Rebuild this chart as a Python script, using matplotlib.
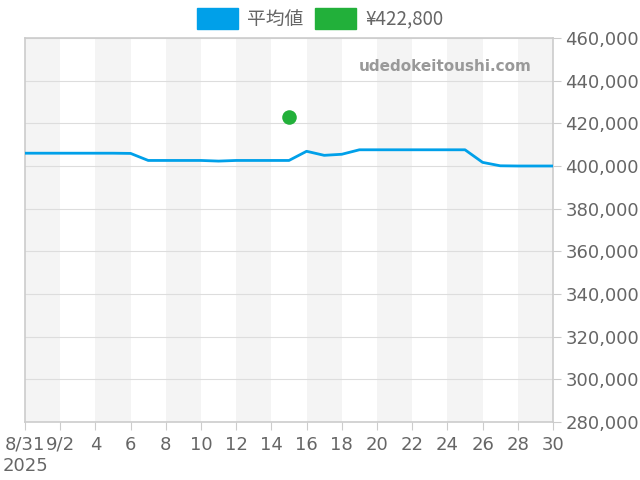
import matplotlib
matplotlib.use("Agg")
import matplotlib.pyplot as plt
from matplotlib.patches import Patch
import numpy as np

plt.rcParams['font.family'] = ['DejaVu Sans', 'Noto Sans CJK JP']

# days since 8/31 and average price
days = list(range(31))
avg_price = [406000, 406000, 406000, 406000, 406000, 406000, 405900, 402600, 402600, 402600,
             402600, 402300, 402600, 402600, 402600, 402600, 406900, 405000, 405500, 407600,
             407600, 407600, 407600, 407600, 407600, 407600, 401700, 400100, 400000, 400000,
             400000]
point_day = 15
point_price = 422800
tick_days = list(range(0, 31, 2))
tick_labels = ["8/31", "9/2"] + [str(d) for d in range(4, 31, 2)]

grey_txt = "#666666"
fig = plt.figure(figsize=(6.4, 4.8), dpi=100)
ax = fig.add_axes([25 / 640, 1 - 422 / 480, 528 / 640, 384 / 480])

for start in range(0, 30, 4):
    ax.axvspan(start, start + 2, color="#f4f4f4", lw=0, zorder=0)

ax.plot(days, avg_price, color="#00a0e9", lw=2, zorder=3)
ax.scatter([point_day], [point_price], s=110, color="#22b03a", zorder=4, lw=0)

ax.set_xlim(0, 30)
ax.set_ylim(280000, 460000)
ax.set_yticks(np.arange(280000, 460001, 20000))
ax.yaxis.tick_right()
ax.yaxis.grid(True, color="#dddddd", lw=0.8)
ax.set_axisbelow(True)
ax.yaxis.set_major_formatter(matplotlib.ticker.FuncFormatter(lambda v, p: f"{int(v):,}"))
ax.tick_params(axis="y", length=6, color="#cccccc", labelsize=13, labelcolor=grey_txt, pad=3)
ax.set_xticks(tick_days)
ax.set_xticklabels(tick_labels)
ax.tick_params(axis="x", length=6, color="#cccccc", labelsize=13, labelcolor=grey_txt, pad=4)
for s in ax.spines.values():
    s.set_color("#cccccc")
    s.set_linewidth(1.2)

fig.text(3 / 640, 1 - 466 / 480, "2025", fontsize=13, color=grey_txt, va="center")
ax.text(0.96, 0.925, "udedokeitoushi.com", transform=ax.transAxes, ha="right", va="center",
        fontsize=11, fontweight="bold", color="#999999")

handles = [Patch(color="#00a0e9", label="平均値"), Patch(color="#22b03a", label="¥422,800")]
fig.legend(handles=handles, loc="center", bbox_to_anchor=(320 / 640, 1 - 19 / 480), ncol=2,
           frameon=False, labelcolor=grey_txt, handlelength=2.2, handleheight=1.3,
           handletextpad=0.5, columnspacing=0.6,
           prop={"family": ["Noto Sans CJK JP", "DejaVu Sans"], "size": 13.5})

fig.savefig("out.png", dpi=100)
